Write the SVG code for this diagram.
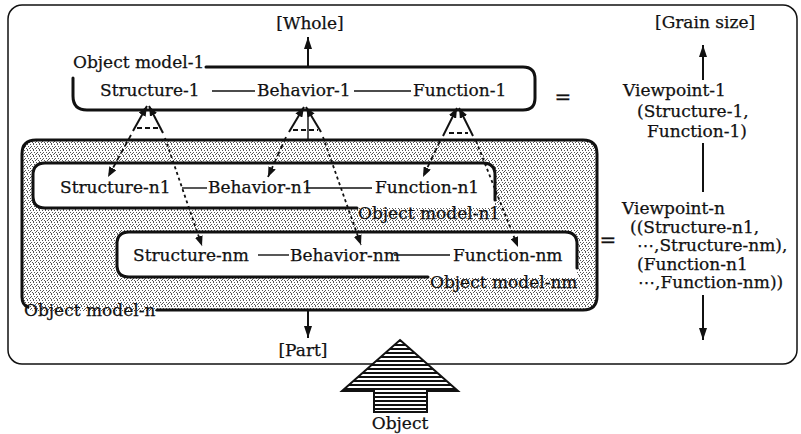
<svg xmlns="http://www.w3.org/2000/svg" width="801" height="434" viewBox="0 0 801 434">
<style>
text{font-family:"DejaVu Serif","Liberation Serif",serif;font-size:17px;fill:#111;stroke:#111;stroke-width:0.25}
.box{fill:none;stroke:#111;stroke-width:3;stroke-linecap:round}
.ln{stroke:#111;stroke-width:1.4;fill:none}
.sol{stroke:#111;stroke-width:2;fill:none}
.dash{stroke:#111;stroke-width:1.8;stroke-dasharray:5 3;fill:none}
.dot{stroke:#111;stroke-width:1.8;stroke-dasharray:3 3;fill:none}
</style>
<defs>
<marker id="ah" viewBox="0 0 10 8" refX="10" refY="4" markerWidth="10" markerHeight="8" markerUnits="userSpaceOnUse" orient="auto"><path d="M0,0 L10,4 L0,8 Z" fill="#111"/></marker>
<marker id="ah2" viewBox="0 0 12 8" refX="12" refY="4" markerWidth="12" markerHeight="8" markerUnits="userSpaceOnUse" orient="auto"><path d="M0,0 L12,4 L0,8 Z" fill="#111"/></marker>
<pattern id="stip" width="6" height="6" patternUnits="userSpaceOnUse"><rect width="6" height="6" fill="#fff"/><g fill="#555"><rect x="0" y="0" width="1" height="1"/><rect x="3" y="0" width="1" height="1"/><rect x="1" y="2" width="1" height="1"/><rect x="4" y="2" width="1" height="1"/><rect x="2" y="4" width="1" height="1"/><rect x="5" y="4" width="1" height="1"/><rect x="0" y="3" width="1" height="1"/><rect x="3" y="5" width="1" height="1"/></g></pattern>
<pattern id="stripe" width="4" height="4" patternUnits="userSpaceOnUse"><rect width="4" height="4" fill="#fff"/><rect y="0" width="4" height="2" fill="#111"/></pattern>
</defs>

<rect id="outer" x="8" y="5" width="789" height="359" rx="14" fill="none" stroke="#111" stroke-width="1.5"/>

<g id="model-n">
<rect x="22" y="140" width="575" height="171" rx="14" fill="url(#stip)"/>
<path class="box" d="M157,310 H583 Q597,310 597,296 V154 Q597,140 583,140 H36 Q22,140 22,154 V297 Q22,305 28,307"/>
<text x="24" y="316">Object model-n</text>
</g>

<g id="model-1">
<path class="box" d="M206,67 H523 Q535,67 535,79 V98 Q535,110 523,110 H87 Q73,110 73,96 V78"/>
<text x="73" y="68">Object model-1</text>
<text x="100" y="96">Structure-1</text>
<text x="257" y="96">Behavior-1</text>
<text x="413" y="96">Function-1</text>
</g>

<g id="model-n1">
<path d="M33,175 Q33,163 45,163 H483 Q495,163 495,175 V208 H45 Q33,208 33,196 Z" fill="#fff"/>
<path class="box" d="M357,208 H45 Q33,208 33,196 V175 Q33,163 45,163 H483 Q495,163 495,175 V200"/>
<text x="60" y="193">Structure-n1</text>
<text x="208" y="193">Behavior-n1</text>
<text x="375" y="193">Function-n1</text>
<text x="358" y="219">Object model-n1</text>
</g>

<g id="model-nm">
<path d="M117,244 Q117,232 129,232 H565 Q577,232 577,244 V277 H129 Q117,277 117,265 Z" fill="#fff"/>
<path class="box" d="M428,277 H129 Q117,277 117,265 V244 Q117,232 129,232 H565 Q577,232 577,244 V268"/>
<text x="133" y="261">Structure-nm</text>
<text x="290" y="261">Behavior-nm</text>
<text x="453" y="261">Function-nm</text>
<text x="430" y="288">Object model-nm</text>
</g>

<g id="viewpoints">
<text x="655" y="28">[Grain size]</text>
<text x="623" y="96">Viewpoint-1</text>
<text x="637" y="117">(Structure-1,</text>
<text x="647" y="137">Function-1)</text>
<text x="622" y="214">Viewpoint-n</text>
<text x="630" y="233">((Structure-n1,</text>
<text x="637" y="251">⋯,Structure-nm),</text>
<text x="637" y="270">(Function-n1</text>
<text x="638" y="288">⋯,Function-nm))</text>
<text x="563" y="104" text-anchor="middle" style="font-size:20px">=</text>
<text x="608" y="247" text-anchor="middle" style="font-size:20px">=</text>
</g>

<g id="labels">
<text x="310" y="29" text-anchor="middle">[Whole]</text>
<text x="303" y="356" text-anchor="middle">[Part]</text>
</g>

<g id="object">
<path d="M400,340 L458,391 L427,391 L427,412 L374,412 L374,391 L342,391 Z" fill="url(#stripe)" stroke="#111" stroke-width="2" stroke-linejoin="miter"/>
<text x="400" y="429" text-anchor="middle">Object</text>
</g>

<g id="connectors">
<line class="sol" x1="308" y1="67" x2="308" y2="37" marker-end="url(#ah2)"/>
<line class="sol" x1="308" y1="310" x2="308" y2="338" marker-end="url(#ah2)"/>
<line class="sol" x1="703" y1="80" x2="703" y2="45" marker-end="url(#ah2)"/>
<line class="sol" x1="703" y1="143" x2="703" y2="192"/>
<line class="sol" x1="703" y1="295" x2="703" y2="340" marker-end="url(#ah2)"/>

<line class="ln" x1="212" y1="91" x2="255" y2="91"/>
<line class="ln" x1="354" y1="91" x2="411" y2="91"/>
<line class="ln" x1="182" y1="188" x2="207" y2="188"/>
<line class="ln" x1="306" y1="188" x2="372" y2="188"/>
<line class="ln" x1="258" y1="255" x2="289" y2="255"/>
<line class="ln" x1="394" y1="255" x2="450" y2="255"/>

<line class="sol" x1="133" y1="131" x2="147" y2="106" marker-end="url(#ah)"/>
<line class="sol" x1="163" y1="133" x2="149" y2="106" marker-end="url(#ah)"/>
<line class="dash" x1="137" y1="128" x2="158" y2="128"/>
<line class="dash" x1="131" y1="135" x2="108" y2="177" marker-end="url(#ah)"/>
<line class="dot" x1="165" y1="138" x2="202" y2="246" marker-end="url(#ah)"/>

<line class="sol" x1="289" y1="132" x2="304" y2="107" marker-end="url(#ah)"/>
<line class="sol" x1="321" y1="132" x2="306" y2="107" marker-end="url(#ah)"/>
<line class="dash" x1="293" y1="130" x2="318" y2="130"/>
<line class="ln" x1="308" y1="113" x2="308" y2="140"/>
<line class="dash" x1="286" y1="137" x2="268" y2="177" marker-end="url(#ah)"/>
<line class="dot" x1="323" y1="137" x2="361" y2="245" marker-end="url(#ah)"/>

<line class="sol" x1="443" y1="136" x2="457" y2="108" marker-end="url(#ah)"/>
<line class="sol" x1="473" y1="136" x2="459" y2="108" marker-end="url(#ah)"/>
<line class="dash" x1="449" y1="133" x2="468" y2="133"/>
<line class="dash" x1="440" y1="141" x2="423" y2="177" marker-end="url(#ah)"/>
<line class="dot" x1="476" y1="141" x2="518" y2="247" marker-end="url(#ah)"/>
</g>
</svg>
